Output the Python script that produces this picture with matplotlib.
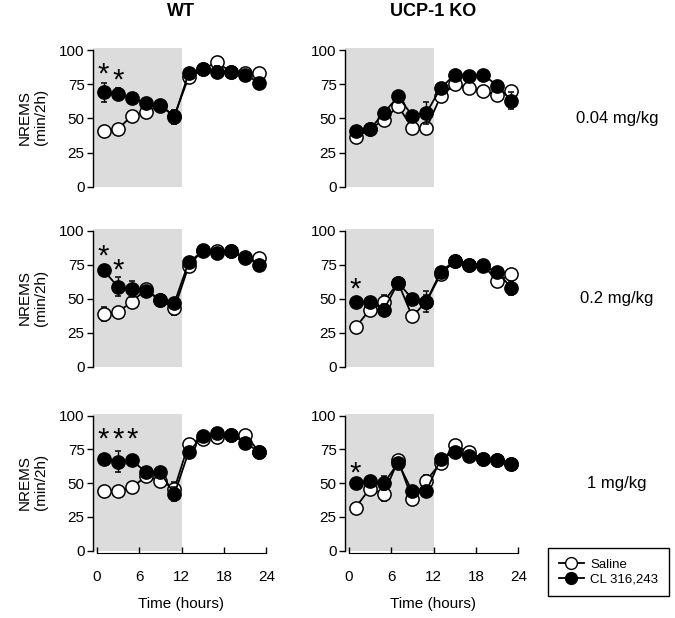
import matplotlib
matplotlib.use("Agg")
import matplotlib.pyplot as plt
import numpy as np
from matplotlib.lines import Line2D

plt.rcParams['font.family'] = ['Liberation Sans', 'DejaVu Sans']

hours = [1, 3, 5, 7, 9, 11, 13, 15, 17, 19, 21, 23]
xticks = [0, 6, 12, 18, 24]
yticks = [0, 25, 50, 75, 100]
col_titles = ["WT", "UCP-1 KO"]
row_labels = ["0.04 mg/kg", "0.2 mg/kg", "1 mg/kg"]

# WT 0.04 mg/kg
wt004_sal = [41, 42, 52, 55, 59, 52, 80, 86, 91, 84, 83, 83]
wt004_sal_err = [2, 2, 2, 5, 3, 2, 2, 2, 2, 2, 2, 2]
wt004_cl = [69, 68, 65, 61, 60, 51, 83, 86, 84, 84, 82, 76]
wt004_cl_err = [7, 4, 3, 2, 2, 5, 2, 2, 4, 2, 2, 2]
# KO 0.04 mg/kg
ko004_sal = [36, 42, 49, 59, 43, 43, 66, 75, 72, 70, 67, 70]
ko004_sal_err = [2, 2, 4, 2, 3, 3, 2, 2, 3, 4, 2, 2]
ko004_cl = [41, 42, 54, 66, 52, 54, 72, 82, 81, 82, 74, 63]
ko004_cl_err = [2, 2, 2, 2, 2, 8, 3, 2, 2, 2, 2, 6]
# WT 0.2 mg/kg
wt02_sal = [39, 40, 48, 57, 49, 43, 74, 86, 85, 85, 80, 80]
wt02_sal_err = [5, 4, 5, 2, 2, 5, 2, 2, 2, 2, 2, 2]
wt02_cl = [71, 59, 57, 56, 49, 47, 77, 85, 84, 85, 81, 75]
wt02_cl_err = [2, 7, 6, 2, 2, 2, 2, 2, 2, 2, 2, 3]
# KO 0.2 mg/kg
ko02_sal = [29, 42, 48, 62, 37, 48, 68, 78, 75, 75, 63, 68]
ko02_sal_err = [2, 5, 5, 2, 2, 8, 2, 2, 2, 2, 2, 2]
ko02_cl = [48, 48, 42, 62, 50, 48, 70, 78, 75, 74, 70, 58]
ko02_cl_err = [2, 2, 4, 2, 2, 5, 2, 2, 2, 2, 2, 5]
# WT 1 mg/kg
wt1_sal = [44, 44, 47, 55, 52, 46, 79, 83, 84, 86, 86, 73]
wt1_sal_err = [2, 2, 2, 2, 2, 5, 2, 2, 2, 2, 2, 2]
wt1_cl = [68, 66, 67, 58, 58, 42, 73, 85, 87, 86, 80, 73]
wt1_cl_err = [4, 8, 4, 2, 2, 5, 2, 2, 2, 2, 2, 3]
# KO 1 mg/kg
ko1_sal = [32, 46, 42, 67, 38, 52, 65, 78, 73, 68, 67, 64]
ko1_sal_err = [2, 3, 5, 2, 2, 4, 2, 2, 2, 2, 2, 2]
ko1_cl = [50, 52, 50, 65, 44, 44, 68, 73, 70, 68, 67, 64]
ko1_cl_err = [2, 2, 5, 2, 3, 4, 2, 2, 2, 2, 2, 4]

panels = [
    [(wt004_sal, wt004_sal_err, wt004_cl, wt004_cl_err), (ko004_sal, ko004_sal_err, ko004_cl, ko004_cl_err)],
    [(wt02_sal, wt02_sal_err, wt02_cl, wt02_cl_err), (ko02_sal, ko02_sal_err, ko02_cl, ko02_cl_err)],
    [(wt1_sal, wt1_sal_err, wt1_cl, wt1_cl_err), (ko1_sal, ko1_sal_err, ko1_cl, ko1_cl_err)],
]
# significance stars (hour, y of star centre)
stars = [
    [[(1, 87), (3, 83)], []],
    [[(1, 86), (3, 76)], [(1, 62)]],
    [[(1, 87), (3, 87), (5, 87)], [(1, 62)]],
]

W, H = 675, 618
fig = plt.figure(figsize=(W / 100, H / 100), dpi=100)

col_left = [93, 345]
ax_w = 177
row_top = [50, 231, 415.7]
row_bot = [186.7, 366.7, 550.7]
ytop = 101.5

for r in range(3):
    for c in range(2):
        hpx = (row_bot[r] - row_top[r]) * ytop / 100
        ax = fig.add_axes([col_left[c] / W, 1 - row_bot[r] / H, ax_w / W, hpx / H])
        sal, sal_e, cl, cl_e = panels[r][c]
        ax.axvspan(-0.5, 12, ymin=0, ymax=1, color='#dcdcdc', lw=0, zorder=0)
        ax.errorbar(hours, sal, yerr=sal_e, color='black', lw=1.3, marker='o', ms=9.5,
                    mfc='white', mec='black', mew=1.1, capsize=2, elinewidth=1, zorder=3)
        ax.errorbar(hours, cl, yerr=cl_e, color='black', lw=1.3, marker='o', ms=9.5,
                    mfc='black', mec='black', mew=1.1, capsize=2, elinewidth=1, zorder=4)
        for (hx, hy) in stars[r][c]:
            ax.text(hx, hy - 5, "*", ha='center', va='center', fontsize=21, zorder=5)
        ax.set_xlim(-0.5, 24.5)
        ax.set_ylim(0, ytop)
        ax.set_yticks(yticks)
        ax.tick_params(axis='y', labelsize=11, length=4, width=1, direction='out', pad=2)
        ax.spines['top'].set_visible(False)
        ax.spines['right'].set_visible(False)
        ax.spines['left'].set_bounds(0, 100)
        ax.spines['left'].set_linewidth(1)
        if r == 2:
            ax.spines['bottom'].set_position(('outward', 2))
            ax.spines['bottom'].set_bounds(0, 24)
            ax.set_xticks(xticks)
            ax.tick_params(axis='x', labelsize=11, length=4, width=1, direction='in', pad=12)
            ax.set_xlabel("Time (hours)", fontsize=11, labelpad=9)
        else:
            ax.spines['bottom'].set_visible(False)
            ax.set_xticks([])
        if c == 0:
            ax.set_ylabel("NREMS\n(min/2h)", fontsize=11, labelpad=8, linespacing=1.2)
    fig.text(617 / W, 1 - ((row_top[r] + row_bot[r]) / 2) / H, row_labels[r],
             ha='center', va='center', fontsize=12)

for c in range(2):
    fig.text((col_left[c] + 88) / W, 1 - 12 / H, col_titles[c], ha='center', va='center',
             fontsize=13, fontweight='bold')

handles = [Line2D([0], [0], color='black', lw=1.3, marker='o', ms=8.5, mfc='white', mec='black'),
           Line2D([0], [0], color='black', lw=1.3, marker='o', ms=8.5, mfc='black', mec='black')]
fig.legend(handles, ["Saline", "CL 316,243"], loc='upper left',
           bbox_to_anchor=(548 / W, 1 - 548 / H), fontsize=9.5, frameon=True, fancybox=False,
           edgecolor='black', framealpha=1, handlelength=1.9, handletextpad=0.5,
           borderpad=0.8, labelspacing=0.2, borderaxespad=0)

fig.savefig("out.png", dpi=100)
